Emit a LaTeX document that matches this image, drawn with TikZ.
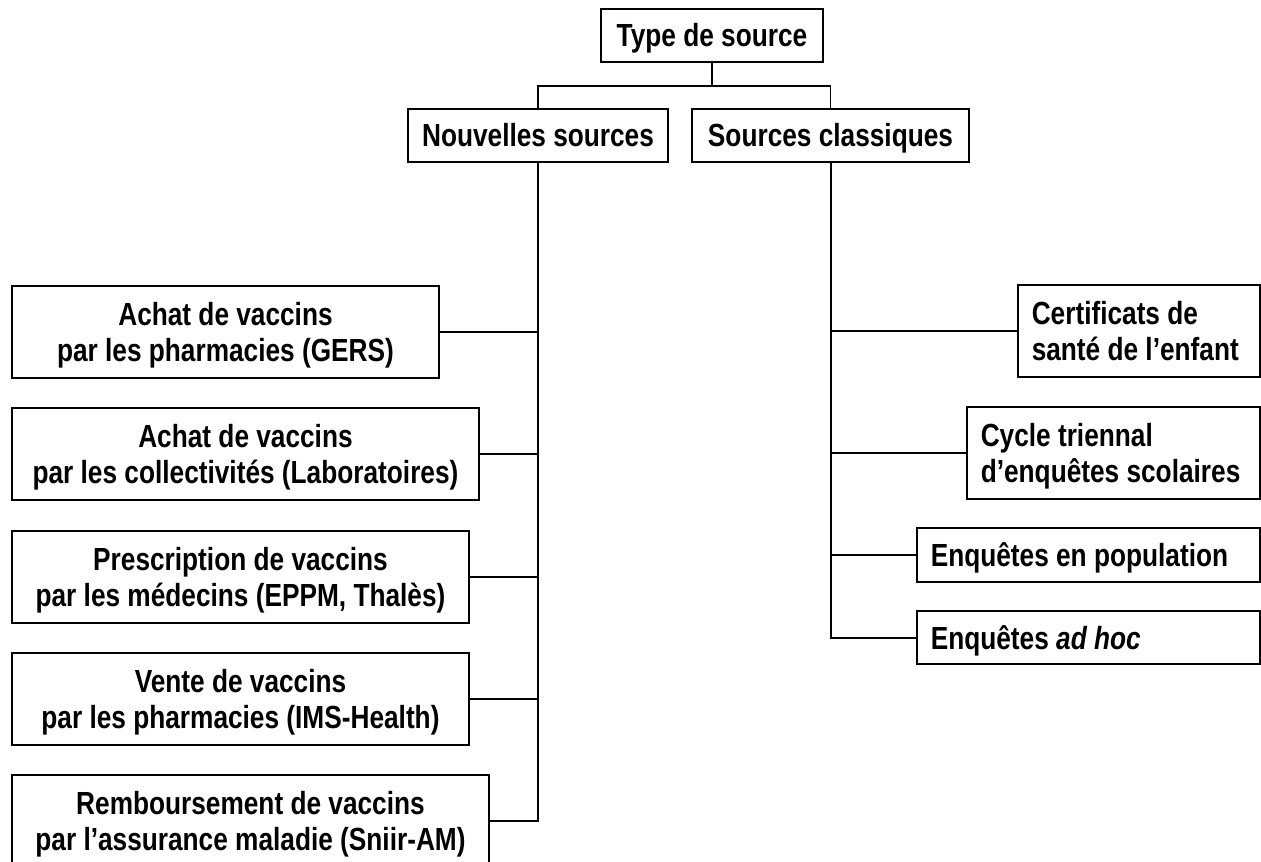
\documentclass[tikz,border=0pt]{standalone}
\usepackage{fontspec}
\setmainfont{Liberation Sans}[FakeStretch=0.82]
\begin{document}
\begin{tikzpicture}[x=0.5pt,y=-0.5pt,
  font=\fontsize{16}{18}\selectfont\bfseries,
  one/.style={text height=11.5pt,text depth=0pt},
  two/.style={text height=11.5pt,text depth=18pt},
  twoc/.style={text height=29.5pt,text depth=0pt},
  box/.style={draw=black,line width=0.75pt,rectangle,inner sep=0pt,align=center,text=black},
  lbox/.style={draw=black,line width=0.75pt,rectangle,inner xsep=7pt,inner ysep=0pt,align=flush left,text=black,anchor=west},
  conn/.style={draw=black,line width=0.6pt},
  trunk/.style={draw=black,line width=1pt}]
\useasboundingbox (0,0) rectangle (1261,861);
\clip (0,0) rectangle (1261,861);
% top level
\node[box,one,minimum width=111pt,minimum height=26.5pt] (type) at (712,35.5) {Type de source};
\node[box,one,minimum width=130pt,minimum height=26.5pt] (nouv) at (538,135.5) {Nouvelles sources};
\node[box,one,minimum width=138.5pt,minimum height=26.5pt] (class) at (830.5,135.5) {Sources classiques};
\coordinate (split) at (712,86);
\draw[conn] (type.south) -- (split);
\draw[conn] (nouv.north) |- (split) -| (class.north);
% left boxes
\node[box,twoc,minimum width=213.5pt,minimum height=46pt] (l1) at (225.5,332) {Achat de vaccins\\par les pharmacies (GERS)};
\node[box,twoc,minimum width=233.5pt,minimum height=46pt] (l2) at (245.5,454) {Achat de vaccins\\par les collectivités (Laboratoires)};
\node[box,twoc,minimum width=228.5pt,minimum height=46pt] (l3) at (240.5,577) {Prescription de vaccins\\par les médecins (EPPM, Thalès)};
\node[box,twoc,minimum width=228.5pt,minimum height=46pt] (l4) at (240.5,699) {Vente de vaccins\\par les pharmacies (IMS-Health)};
\node[box,twoc,minimum width=238.5pt,minimum height=46pt] (l5) at (250.5,821) {Remboursement de vaccins\\par l’assurance maladie (Sniir-AM)};
\draw[trunk] (nouv.south) |- (l5.east);
\foreach \n in {l1,l2,l3,l4}{\draw[conn] (\n.east) -- (\n.east -| nouv.south);}
% right boxes
\node[lbox,two,text width=107pt,minimum height=46pt] (r1) at (1017,331) {Certificats de\\santé de l’enfant};
\node[lbox,two,text width=132.5pt,minimum height=46pt] (r2) at (966,453) {Cycle triennal\\d’enquêtes scolaires};
\node[lbox,one,text width=157.5pt,minimum height=27pt] (r3) at (916,555) {Enquêtes en population};
\node[lbox,one,text width=157.5pt,minimum height=26.5pt] (r4) at (916,637.5) {Enquêtes \textit{ad hoc}};
\draw[trunk] (class.south) |- (r4.west);
\foreach \n in {r1,r2,r3}{\draw[conn] (\n.west) -- (\n.west -| class.south);}
\end{tikzpicture}
\end{document}
